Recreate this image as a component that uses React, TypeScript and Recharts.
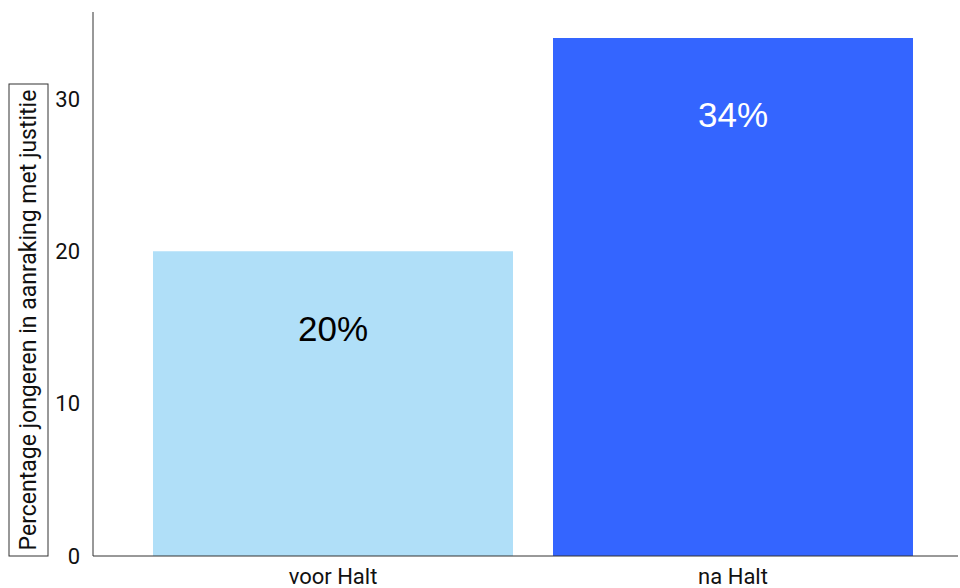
import React from 'react'
import { BarChart, Bar, XAxis, YAxis, Cell, LabelList } from 'recharts'

const categories = ['voor Halt', 'na Halt']
const percentages = [20, 34]
const barColors = ['#b0dff8', '#3465ff']
const labelColors = ['#000000', '#ffffff']
const yTicks = [0, 10, 20, 30]
const yAxisTitle = 'Percentage jongeren in aanraking met justitie'

const data = categories.map((name, i) => ({ name, value: percentages[i] }))

const AxisTitle = (props: any) => {
  const { viewBox } = props
  const bottom = viewBox.y + viewBox.height
  const cx = 28.5
  const boxH = 472
  const cy = bottom - boxH / 2
  return (
    <g>
      <rect x={9} y={bottom - boxH} width={39} height={boxH} fill="none" stroke="#333" strokeWidth={1} />
      <text
        x={cx}
        y={cy}
        transform={`rotate(-90 ${cx} ${cy})`}
        textAnchor="middle"
        dominantBaseline="central"
        fontFamily="Roboto"
        fontSize={23}
        fill="#111"
      >
        {yAxisTitle}
      </text>
    </g>
  )
}

const BarValue = (props: any) => {
  const { x, y, width, value, index } = props
  return (
    <text
      x={x + width / 2}
      y={y + 77}
      textAnchor="middle"
      dominantBaseline="central"
      fontFamily="'Liberation Sans', Arial, sans-serif"
      fontSize={35}
      fill={labelColors[index]}
    >
      {value}%
    </text>
  )
}

export default function App() {
  return (
    <div style={{ width: 960, height: 588 }}>
      <style>{'body{margin:0}'}</style>
      <BarChart
        width={960}
        height={588}
        data={data}
        margin={{ top: 12, right: 2, bottom: 0, left: 0 }}
        barCategoryGap="5%"
      >
        <XAxis
          dataKey="name"
          height={32}
          tickLine={false}
          tickMargin={6}
          padding={{ left: 40, right: 25 }}
          stroke="#333"
          tick={{ fill: '#111', fontFamily: 'Roboto', fontSize: 22 }}
        />
        <YAxis
          width={93}
          domain={[0, 35.7]}
          ticks={yTicks}
          tickLine={false}
          tickMargin={7}
          stroke="#333"
          tick={{ fill: '#111', fontFamily: 'Roboto', fontSize: 22 }}
          label={{ content: AxisTitle }}
        />
        <Bar dataKey="value" isAnimationActive={false}>
          {data.map((d, i) => (
            <Cell key={d.name} fill={barColors[i]} />
          ))}
          <LabelList dataKey="value" content={BarValue} />
        </Bar>
      </BarChart>
    </div>
  )
}
